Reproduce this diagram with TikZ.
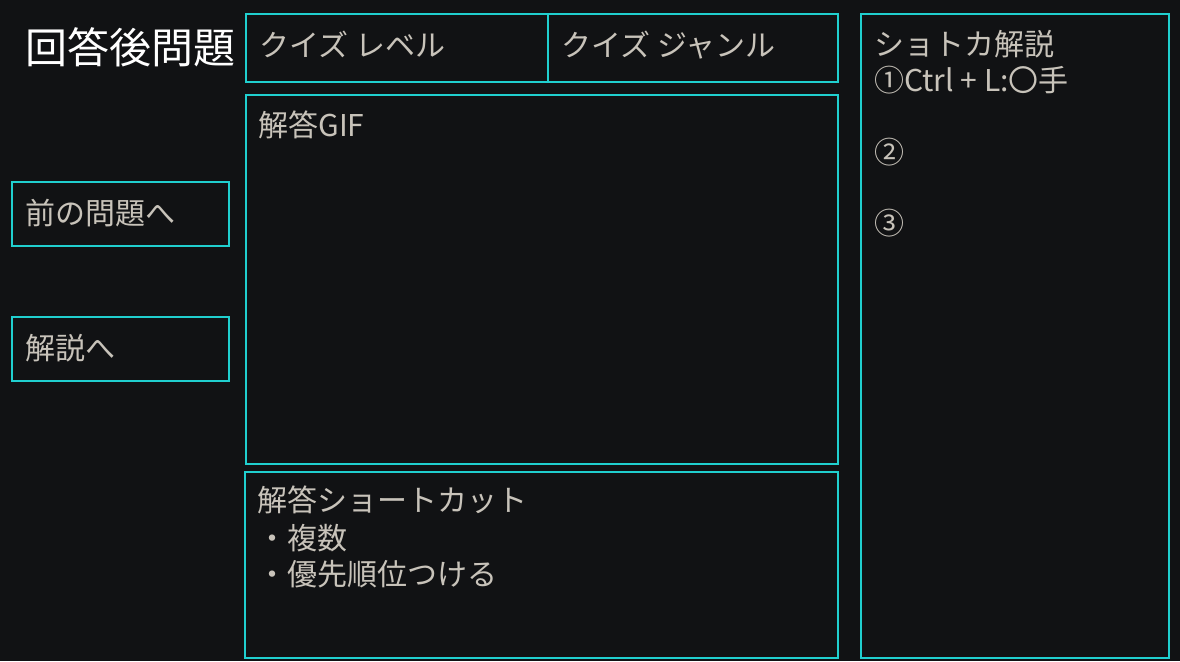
\documentclass[tikz,border=0pt]{standalone}
\usepackage{fontspec}
\setmainfont{Noto Sans CJK JP}
\definecolor{bgdark}{HTML}{111214}
\definecolor{edgecyan}{HTML}{20CFCF}
\definecolor{txtgray}{HTML}{C8C3BA}
\tikzset{
  pane/.style={draw=edgecyan, line width=0.85pt},
  caption/.style={text=txtgray, anchor=west, inner sep=0pt,
    font=\fontsize{15}{18}\selectfont, text height=13.2pt, text depth=1.8pt},
}
\begin{document}
\begin{tikzpicture}[x=0.5pt, y=-0.5pt]
        \fill[bgdark] (0,0) rectangle (1180,661);
        \node[caption, text=white, font=\fontsize{21}{24}\selectfont, text height=18.5pt, text depth=2.5pt] (title) at (25,47) {回答後問題};
        % top row
        \draw[pane] (246,14) rectangle (548,82);
        \draw[pane] (548,14) rectangle (838,82);
        \node[caption] (level) at (259,45) {クイズ レベル};
        \node[caption] (genre) at (561,45) {クイズ ジャンル};
        % gif area
        \draw[pane] (246,95) rectangle (838,464);
        \node[caption] (gif) at (258,125) {解答GIF};
        % shortcut area
        \draw[pane] (245,472) rectangle (838,658);
        \node[caption] (sckey) at (257,500) {解答ショートカット};
        \node[caption] (scmulti) at (257,538) {・複数};
        \node[caption] (scorder) at (257,574) {・優先順位つける};
        % left buttons
        \draw[pane] (12,182) rectangle (229,246);
        \node[caption] (prev) at (25,213) {前の問題へ};
        \draw[pane] (12,317) rectangle (229,381);
        \node[caption] (explain) at (25,348) {解説へ};
        % right column
        \draw[pane] (861,14) rectangle (1169,658);
        \node[caption] (tiphead) at (874,44) {ショトカ解説};
        \node[caption] (tipone) at (874,80) {①Ctrl + L:〇手};
        \node[caption] (tiptwo) at (874,152) {②};
        \node[caption] (tipthree) at (874,223) {③};
\end{tikzpicture}
\end{document}
